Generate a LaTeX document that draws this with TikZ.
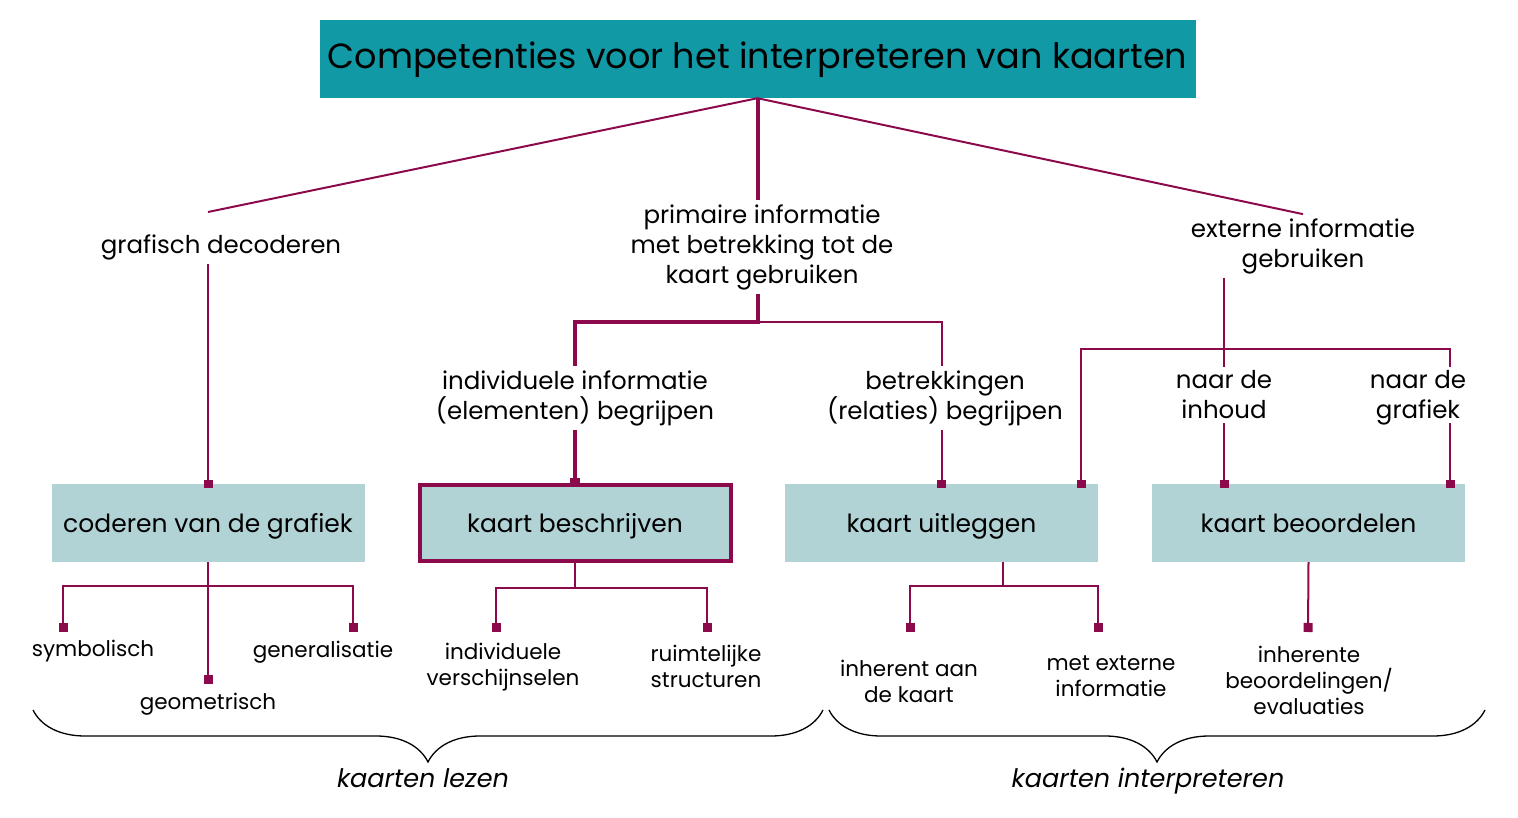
\documentclass[tikz,border=0pt]{standalone}
\usepackage{fontspec}
\setmainfont{Poppins}
\usetikzlibrary{arrows.meta,decorations.pathreplacing,positioning}
\definecolor{titleteal}{RGB}{17,153,166}
\definecolor{boxblue}{RGB}{178,211,214}
\definecolor{linkred}{RGB}{140,10,75}
\tikzset{
  link/.style={linkred, line width=2pt},
  mainlink/.style={linkred, line width=4pt},
  tolink/.style={link, -{Square[length=8pt,width=9pt]}, shorten >=-4pt},
  endlink/.style={link, -{Square[length=9pt,width=9pt]}},
  label/.style={align=center, font=\fontsize{24.5}{30}\selectfont, inner sep=4pt},
  small/.style={align=center, font=\fontsize{21.5}{26}\selectfont, inner sep=4pt},
  bracetext/.style={anchor=base, font=\itshape\fontsize{25.5}{30}\selectfont},
  compbox/.style={fill=boxblue, minimum width=313pt, minimum height=78pt,
    text height=24pt, text depth=6pt, font=\fontsize{25}{30}\selectfont},
  bracelink/.style={decorate, decoration={brace, mirror, amplitude=52pt}, line width=1.3pt},
}
\begin{document}
\begin{tikzpicture}[x=1pt, y=-1pt]
    \useasboundingbox (0,0) rectangle (1518,818);
    % Title
    \node[fill=titleteal, minimum width=876pt, minimum height=78pt,
      text height=27pt, text depth=7pt,
      font=\fontsize{35}{40}\selectfont] (title) at (757.5,59)
      {Competenties voor het interpreteren van kaarten};

    % Competence boxes
    \node[compbox] (cod) at (208,523) {coderen van de grafiek};
    \node[compbox, draw=linkred, line width=4pt, minimum width=311pt,
      minimum height=76pt] (bes) at (575,523) {kaart beschrijven};
    \node[compbox] (uit) at (941.5,523) {kaart uitleggen};
    \node[compbox] (beo) at (1308.5,523) {kaart beoordelen};

    % Intermediate labels
    \node[label] (gd) at (221,247) {grafisch decoderen};
    \node[label] (pi) at (762,247) {primaire informatie\\met betrekking tot de\\kaart gebruiken};
    \node[label] (ei) at (1303,246) {externe informatie\\gebruiken};
    \node[label] (ii) at (575,398) {individuele informatie\\(elementen) begrijpen};
    \node[label] (br) at (945,398) {betrekkingen\\(relaties) begrijpen};
    \node[label] (ni) at (1224,395) {naar de\\inhoud};
    \node[label] (ng) at (1418,398) {naar de\\grafiek};

    % Lower labels
    \node[small] (sym) at (93,651) {symbolisch};
    \node[small] (geo) at (208,704) {geometrisch};
    \node[small] (gen) at (323,652) {generalisatie};
    \node[small] (ind) at (503,667) {individuele\\verschijnselen};
    \node[small] (rs) at (706,666) {ruimtelijke\\structuren};
    \node[small] (ia) at (909,681) {inherent aan\\de kaart};
    \node[small] (me) at (1111,676) {met externe\\informatie};
    \node[small] (ib) at (1309,680) {inherente\\beoordelingen/\\evaluaties};

    % Brace labels
    \node[bracetext] (lez) at (423,787) {kaarten lezen};
    \node[bracetext] (int) at (1148,787) {kaarten interpreteren};

    % Free ends
    \coordinate (gdtop) at (208,212);
    \coordinate (exl) at (1081,349);
    \coordinate (exr) at (1450,349);
    \coordinate (symend) at (63,632);
    \coordinate (genend) at (353,632);
    \coordinate (geoend) at (208,684);
    \coordinate (indend) at (496,632);
    \coordinate (rsend) at (707,632);
    \coordinate (iaend) at (910,632);
    \coordinate (meend) at (1098,632);
    \coordinate (ibend) at (1308,632);

    % Upper connectors
    \draw[link] (title.south) -- (gdtop);
    \draw[link] (title.south) -- (ei.north);
    \draw[mainlink] (title.south) -- (title.south |- pi.north);
    \draw[tolink] (cod.north |- gd.south) -- (cod.north);
    \draw[mainlink] (title.south |- pi.south) -- ++(0,28) -| (ii.north);
    \draw[link] (title.south |- pi.south) ++(0,28) -| (uit.north |- br.north);
    \draw[mainlink, -{Square[length=9pt,width=10pt]}, shorten >=-4pt] (ii.south) -- (bes.north);
    \draw[tolink] (uit.north |- br.south) -- (uit.north);
    \draw[link] (ni.north |- ei.south) -- (ni.north);
    \draw[tolink] (exr |- ni.north) -- (exr) -- (exl) -- (exl |- uit.north);
    \draw[tolink] (ni.south) -- (ni.south |- beo.north);
    \draw[tolink] (exr |- ni.south) -- (exr |- beo.north);

    % Lower connectors
    \draw[endlink] (cod.south) -- (geoend);
    \draw[endlink] (cod.south) -- ++(0,24) -| (symend);
    \draw[endlink] (cod.south) -- ++(0,24) -| (genend);
    \draw[endlink] (bes.south) -- ++(0,25) -| (indend);
    \draw[endlink] (bes.south) -- ++(0,25) -| (rsend);
    \draw[endlink] ([xshift=61.5pt]uit.south) -- ++(0,24) -| (iaend);
    \draw[endlink] ([xshift=61.5pt]uit.south) -- ++(0,24) -| (meend);
    \draw[endlink] (beo.south) -- (ibend);

    % Braces
    \coordinate (lezl) at (33,710);
    \coordinate (lezr) at (823,710);
    \coordinate (intl) at (829,710);
    \coordinate (intr) at (1485,710);
    \draw[bracelink] (lezl) -- (lezr);
    \draw[bracelink] (intl) -- (intr);
\end{tikzpicture}
\end{document}
